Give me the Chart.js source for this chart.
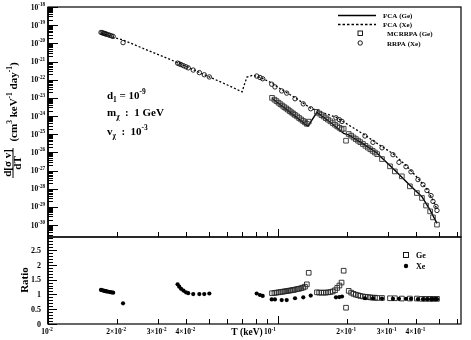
<!DOCTYPE html>
<html>
<head>
<meta charset="utf-8">
<script src="https://cdn.jsdelivr.net/npm/chart.js@4.4.0/dist/chart.umd.min.js"></script>
<style>
  html, body { margin: 0; padding: 0; background: #fff; }
</style>
</head>
<body>
<canvas id="chart" width="471" height="340"></canvas>
<script>
// T in keV, cross sections given as log10 of d<sigma v>/dT
const rrpaXeT = [0.0170, 0.0172, 0.0174, 0.0176, 0.0178, 0.0180, 0.0183, 0.0186, 0.0189, 0.0192, 0.0212,
  0.0366, 0.0372, 0.0379, 0.0388, 0.0398, 0.0407, 0.0428, 0.0455, 0.0478, 0.0503,
  0.0808, 0.0835, 0.0858,
  0.0939, 0.0970, 0.1038, 0.1091, 0.1186, 0.1288, 0.1388, 0.1787, 0.1848, 0.1898,
  0.2389, 0.2588, 0.2833, 0.3162, 0.3358, 0.3602, 0.3787, 0.4062, 0.4270, 0.4444, 0.4627, 0.4720, 0.4864, 0.4913];
const rrpaXeLog = [-19.40, -19.42, -19.44, -19.46, -19.48, -19.50, -19.53, -19.56, -19.59, -19.62, -19.96,
  -21.09, -21.13, -21.17, -21.23, -21.29, -21.35, -21.47, -21.61, -21.73, -21.85,
  -21.80, -21.88, -21.95,
  -22.25, -22.40, -22.62, -22.74, -23.05, -23.33, -23.60, -24.10, -24.20, -24.30,
  -25.10, -25.45, -25.75, -26.13, -26.55, -26.79, -27.07, -27.50, -27.78, -28.10, -28.38, -28.70, -28.98, -29.20];

const fcaXeT = [0.0170, 0.0192, 0.0212, 0.0366, 0.0503, 0.0600, 0.0698, 0.0715, 0.0733, 0.0775, 0.0808, 0.0858,
  0.0939, 0.1038, 0.1186, 0.1388, 0.1787, 0.1898, 0.2389, 0.2833, 0.3162, 0.3602, 0.4062, 0.4444, 0.4720, 0.4913];
const fcaXeLog = [-19.43, -19.66, -19.82, -21.06, -21.85, -22.28, -22.67, -22.25, -21.86, -21.76, -21.81, -21.94,
  -22.18, -22.55, -22.99, -23.57, -24.07, -24.27, -25.05, -25.69, -26.07, -26.72, -27.43, -28.03, -28.63, -29.13];

const mcrrpaGeT = [0.0942, 0.0965, 0.0985, 0.1005, 0.1025, 0.1045, 0.1065, 0.1085, 0.1105, 0.1125, 0.1145, 0.1165,
  0.1185, 0.1210, 0.1235, 0.1260, 0.1285, 0.1310, 0.1335, 0.1360,
  0.1477, 0.1510, 0.1545, 0.1580, 0.1615, 0.1650, 0.1690, 0.1730, 0.1770, 0.1810, 0.1850, 0.1890, 0.1930, 0.1976,
  0.2030, 0.2080, 0.2130, 0.2180, 0.2230, 0.2280, 0.2340, 0.2400, 0.2460, 0.2520, 0.2580, 0.2640, 0.2700,
  0.2833, 0.3069, 0.3221, 0.3455, 0.3745, 0.4017, 0.4226, 0.4403, 0.4587, 0.4720, 0.4913];
const mcrrpaGeLog = [-23.00, -23.10, -23.18, -23.27, -23.35, -23.43, -23.51, -23.58, -23.65, -23.73, -23.80, -23.87,
  -23.94, -24.02, -24.11, -24.19, -24.27, -24.35, -24.43, -24.31,
  -23.77, -23.86, -23.95, -24.03, -24.12, -24.20, -24.29, -24.39, -24.48, -24.57, -24.65, -24.73, -24.70, -25.36,
  -24.99, -25.08, -25.18, -25.27, -25.36, -25.44, -25.54, -25.64, -25.74, -25.83, -25.92, -26.01, -26.10,
  -26.37, -26.77, -27.05, -27.32, -27.87, -28.24, -28.51, -28.93, -29.25, -29.58, -29.98];

const fcaGeT = [0.0942, 0.1100, 0.1250, 0.1335, 0.1350, 0.1477, 0.1700, 0.1930, 0.1976, 0.2030, 0.2400, 0.2700,
  0.2833, 0.3221, 0.3745, 0.4226, 0.4587, 0.4913];
const fcaGeLog = [-23.02, -23.68, -24.24, -24.53, -24.56, -23.80, -24.37, -24.96, -25.00, -25.04, -25.62, -26.05,
  -26.31, -26.99, -27.81, -28.44, -29.18, -29.91];

// ratio panel
const ratioXe = [1.15, 1.14, 1.13, 1.12, 1.11, 1.10, 1.09, 1.08, 1.07, 1.06, 0.70,
  1.34, 1.26, 1.19, 1.13, 1.07, 1.04, 1.01, 1.01, 1.01, 1.03,
  1.03, 0.98, 0.95,
  0.83, 0.83, 0.81, 0.81, 0.87, 0.90, 0.96, 0.90, 0.91, 0.93,
  0.87, 0.87, 0.86, 0.85, 0.85, 0.85, 0.85, 0.84, 0.84, 0.84, 0.84, 0.84, 0.84, 0.84];
const ratioGe = [1.04, 1.05, 1.06, 1.07, 1.08, 1.09, 1.10, 1.11, 1.12, 1.13, 1.14, 1.15,
  1.16, 1.18, 1.19, 1.21, 1.23, 1.26, 1.34, 1.73,
  1.07, 1.06, 1.06, 1.06, 1.06, 1.07, 1.08, 1.10, 1.14, 1.22, 1.30, 1.40, 1.80, 0.55,
  1.12, 1.06, 1.02, 0.99, 0.97, 0.95, 0.93, 0.92, 0.91, 0.90, 0.89, 0.89, 0.88,
  0.88, 0.87, 0.87, 0.86, 0.86, 0.86, 0.85, 0.85, 0.85, 0.85, 0.85];

// axes
const yDecades = [-30, -29, -28, -27, -26, -25, -24, -23, -22, -21, -20, -19, -18];
const ratioTicks = [0, 0.5, 1, 1.5, 2, 2.5];
const xTickValues = [0.01, 0.02, 0.03, 0.04, 0.1, 0.2, 0.3, 0.4];
const xTickMant = ['', '2\u00d7', '3\u00d7', '4\u00d7', '', '2\u00d7', '3\u00d7', '4\u00d7'];
const xTickExp = ['-2', '-2', '-2', '-2', '-1', '-1', '-1', '-1'];

const SERIF = '"Liberation Serif", "DejaVu Serif", serif';
const font = (size) => `bold ${size}px ${SERIF}`;

const pts = (xs, ys) => xs.map((x, i) => ({ x, y: ys[i] }));
const logPts = (xs, ls) => xs.map((x, i) => ({ x, y: Math.pow(10, ls[i]) }));

// draws text runs: [text, 'n' | 'sup' | 'sub'], y is the baseline
function drawRich(ctx, parts, x, y, size, align) {
  const widths = parts.map(([t, k]) => {
    ctx.font = font(k === 'n' ? size : size * 0.68);
    return ctx.measureText(t).width;
  });
  const total = widths.reduce((a, b) => a + b, 0);
  let cx = align === 'right' ? x - total : align === 'center' ? x - total / 2 : x;
  ctx.textAlign = 'left';
  ctx.textBaseline = 'alphabetic';
  parts.forEach(([t, k], i) => {
    ctx.font = font(k === 'n' ? size : size * 0.68);
    const dy = k === 'sup' ? -size * 0.45 : k === 'sub' ? size * 0.25 : 0;
    ctx.fillText(t, cx, y + dy);
    cx += widths[i];
  });
}

function line(ctx, x1, y1, x2, y2) {
  ctx.beginPath();
  ctx.moveTo(x1, y1);
  ctx.lineTo(x2, y2);
  ctx.stroke();
}

const decor = {
  id: 'decor',
  beforeDraw(chart) {
    const { ctx, width, height } = chart;
    ctx.save();
    ctx.fillStyle = '#fff';
    ctx.fillRect(0, 0, width, height);
    ctx.restore();
  },
  afterDatasetsDraw(chart) {
    const { ctx, chartArea: area } = chart;
    const sx = chart.scales.x, sy = chart.scales.y, sr = chart.scales.yr;
    const L = area.left, R = area.right;
    ctx.save();
    ctx.strokeStyle = '#000';
    ctx.fillStyle = '#000';

    // frames
    ctx.lineWidth = 1.2;
    ctx.strokeRect(L, sy.top, R - L, sy.bottom - sy.top);
    ctx.strokeRect(L, sr.top, R - L, sr.bottom - sr.top);
    ctx.lineWidth = 1.6;
    line(ctx, L, sy.top, L, sr.bottom);

    // log y ticks
    ctx.lineWidth = 1;
    for (let n = -31; n <= -18; n++) {
      for (let k = 1; k <= 9; k++) {
        const v = k * Math.pow(10, n);
        if (v < sy.min * 0.999 || v > sy.max * 1.001) continue;
        const py = Math.round(sy.getPixelForValue(v)) + 0.5;
        line(ctx, L, py, L + (k === 1 ? 10 : 5), py);
      }
    }
    // ratio ticks
    for (let i = 0; i <= 29; i++) {
      const py = Math.round(sr.getPixelForValue(i / 10)) + 0.5;
      line(ctx, L, py, L + (i % 5 === 0 ? 9 : 5), py);
    }
    // x ticks on both panels, pointing up
    for (let n = -2; n <= -1; n++) {
      for (let k = 1; k <= 9; k++) {
        const v = k * Math.pow(10, n);
        if (v > sx.max) continue;
        const px = Math.round(sx.getPixelForValue(v)) + 0.5;
        const len = k === 1 ? 8 : 5;
        line(ctx, px, sy.bottom, px, sy.bottom - len);
        line(ctx, px, sr.bottom, px, sr.bottom - len);
      }
    }

    // tick labels
    yDecades.forEach((e) => {
      const py = sy.getPixelForValue(Math.pow(10, e));
      drawRich(ctx, [['10', 'n'], [String(e), 'sup']], 45, py + 2.5, 7.5, 'right');
    });
    ratioTicks.forEach((v) => {
      const py = sr.getPixelForValue(v);
      drawRich(ctx, [[String(v), 'n']], 41, py + 2.7, 8, 'right');
    });
    xTickValues.forEach((v, i) => {
      const px = sx.getPixelForValue(v);
      drawRich(ctx, [[xTickMant[i] + '10', 'n'], [xTickExp[i], 'sup']], px - (v === 0.1 ? 8 : 1), 334, 7.5, 'center');
    });

    // axis titles
    drawRich(ctx, [['T (keV)', 'n']], 247, 335, 9.5, 'center');
    ctx.save();
    ctx.translate(24, 280);
    ctx.rotate(-Math.PI / 2);
    drawRich(ctx, [['Ratio', 'n']], 0, 4, 11, 'center');
    ctx.restore();

    ctx.save();
    ctx.translate(13, 163);
    ctx.rotate(-Math.PI / 2);
    drawRich(ctx, [['d[\u03c3 v]', 'n']], 0, -2.5, 11, 'center');
    ctx.lineWidth = 1;
    line(ctx, -15, 0, 15, 0);
    drawRich(ctx, [['dT', 'n']], 0, 8, 11, 'center');
    ctx.restore();
    ctx.save();
    ctx.translate(13, 102);
    ctx.rotate(-Math.PI / 2);
    drawRich(ctx, [['(cm', 'n'], ['3', 'sup'], [' keV', 'n'], ['-1', 'sup'], [' day', 'n'], ['-1', 'sup'], [')', 'n']], 0, 4, 11, 'center');
    ctx.restore();

    // annotations
    drawRich(ctx, [['d', 'n'], ['1', 'sub'], [' = 10', 'n'], ['-9', 'sup']], 107, 99, 11, 'left');
    drawRich(ctx, [['m', 'n'], ['\u03c7', 'sub'], ['  :  1 GeV', 'n']], 107, 116, 11, 'left');
    drawRich(ctx, [['v', 'n'], ['\u03c7', 'sub'], ['  :  10', 'n'], ['-3', 'sup']], 107, 135, 11, 'left');

    // legend (top panel)
    ctx.strokeStyle = '#000';
    ctx.lineWidth = 1.4;
    line(ctx, 338, 15.5, 376, 15.5);
    ctx.setLineDash([2.5, 2]);
    ctx.lineWidth = 1.3;
    line(ctx, 338, 24.5, 376, 24.5);
    ctx.setLineDash([]);
    ctx.lineWidth = 0.9;
    ctx.strokeRect(358, 31, 4.5, 4.5);
    ctx.beginPath();
    ctx.arc(360.2, 43, 2.2, 0, Math.PI * 2);
    ctx.stroke();
    drawRich(ctx, [['FCA (Ge)', 'n']], 383, 18, 7, 'left');
    drawRich(ctx, [['FCA (Xe)', 'n']], 383, 27, 7, 'left');
    drawRich(ctx, [['MCRRPA (Ge)', 'n']], 387, 36, 7, 'left');
    drawRich(ctx, [['RRPA (Xe)', 'n']], 387, 46, 7, 'left');

    // legend (ratio panel)
    ctx.strokeRect(403.5, 252.5, 5, 5);
    ctx.beginPath();
    ctx.arc(406, 266, 2.2, 0, Math.PI * 2);
    ctx.fill();
    drawRich(ctx, [['Ge', 'n']], 416, 258, 8, 'left');
    drawRich(ctx, [['Xe', 'n']], 416, 269, 8, 'left');

    ctx.restore();
  }
};

new Chart(document.getElementById('chart'), {
  type: 'scatter',
  data: {
    datasets: [
      {
        label: 'RRPA ratio (Xe)',
        data: pts(rrpaXeT, ratioXe),
        yAxisID: 'yr',
        pointStyle: 'circle',
        pointRadius: 2.1,
        backgroundColor: '#000',
        borderColor: '#000',
        borderWidth: 0,
        order: 1,
      },
      {
        label: 'MCRRPA ratio (Ge)',
        data: pts(mcrrpaGeT, ratioGe),
        yAxisID: 'yr',
        pointStyle: 'rect',
        pointRadius: 3.3,
        backgroundColor: 'rgba(0,0,0,0)',
        borderColor: '#222',
        borderWidth: 0.9,
        order: 2,
      },
      {
        label: 'RRPA (Xe)',
        data: logPts(rrpaXeT, rrpaXeLog),
        yAxisID: 'y',
        pointStyle: 'circle',
        pointRadius: 2.2,
        backgroundColor: 'rgba(0,0,0,0)',
        borderColor: '#111',
        borderWidth: 0.9,
        order: 3,
      },
      {
        label: 'MCRRPA (Ge)',
        data: logPts(mcrrpaGeT, mcrrpaGeLog),
        yAxisID: 'y',
        pointStyle: 'rect',
        pointRadius: 3.3,
        backgroundColor: 'rgba(0,0,0,0)',
        borderColor: '#333',
        borderWidth: 0.9,
        order: 4,
      },
      {
        label: 'FCA (Xe)',
        data: logPts(fcaXeT, fcaXeLog),
        yAxisID: 'y',
        showLine: true,
        pointRadius: 0,
        borderColor: '#000',
        borderWidth: 1.3,
        borderDash: [2, 2],
        order: 5,
      },
      {
        label: 'FCA (Ge)',
        data: logPts(fcaGeT, fcaGeLog),
        yAxisID: 'y',
        showLine: true,
        pointRadius: 0,
        borderColor: '#000',
        borderWidth: 1.4,
        order: 6,
      },
    ],
  },
  options: {
    responsive: false,
    animation: false,
    devicePixelRatio: 1,
    layout: { padding: { top: 7, right: 10, left: 0, bottom: 0 } },
    plugins: { legend: { display: false }, tooltip: { enabled: false } },
    scales: {
      x: {
        type: 'logarithmic',
        min: 0.01,
        max: 0.6248,
        ticks: { display: false },
        grid: { display: false },
        border: { display: false },
        afterFit: (s) => { s.height = 16; },
      },
      // left boxes are placed in reverse order, so the ratio axis comes first here
      yr: {
        type: 'linear',
        position: 'left',
        stack: 'left',
        stackWeight: 87,
        min: 0,
        max: 2.94,
        ticks: { display: false },
        grid: { display: false },
        border: { display: false },
        afterFit: (s) => { s.width = 48; },
      },
      y: {
        type: 'logarithmic',
        position: 'left',
        stack: 'left',
        stackWeight: 230,
        min: Math.pow(10, -30.66),
        max: 1e-18,
        ticks: { display: false },
        grid: { display: false },
        border: { display: false },
        afterFit: (s) => { s.width = 48; },
      },
    },
  },
  plugins: [decor],
});
</script>
</body>
</html>
